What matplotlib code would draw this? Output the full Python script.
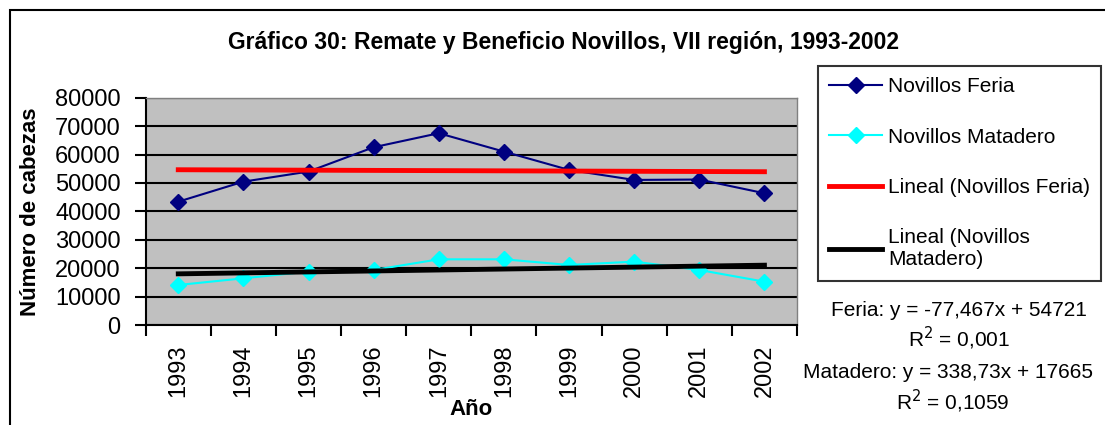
import matplotlib
matplotlib.use("Agg")
import matplotlib.pyplot as plt
from matplotlib.patches import Rectangle
import numpy as np

plt.rcParams['font.family'] = ['Liberation Sans', 'DejaVu Sans']

years = ['1993', '1994', '1995', '1996', '1997', '1998', '1999', '2000', '2001', '2002']
feria = [43400, 50450, 54000, 62560, 67500, 61030, 54580, 51060, 51200, 46370]
matadero = [14080, 16430, 18780, 19370, 23120, 23120, 21130, 22300, 19370, 15250]
# trend coefficients as printed on the chart (x = 1..10)
feria_slope, feria_icpt = -77.467, 54721
mat_slope, mat_icpt = 338.73, 17665

W, H = 1105, 425
fig = plt.figure(figsize=(W / 100, H / 100), dpi=100)
fig.patch.set_facecolor('white')

# outer chart border
fig.add_artist(Rectangle((10 / W, -0.1), 1.2, 1 - 10 / H + 0.1, transform=fig.transFigure,
                         fill=False, edgecolor='black', linewidth=1.5))

ax = fig.add_axes([145.7 / W, 1 - 325 / H, (797 - 145.7) / W, (325 - 97.7) / H])
ax.set_facecolor('#C0C0C0')

x = np.arange(1, len(years) + 1)
ax.set_xlim(0.5, len(years) + 0.5)
ax.set_ylim(0, 80000)
ax.set_yticks(np.arange(0, 80001, 10000))
ax.yaxis.grid(True, color='black', linewidth=1.5)
ax.set_axisbelow(True)

l1, = ax.plot(x, feria, color='#000080', marker='D', markersize=8.5, linewidth=1.5,
              label='Novillos Feria', zorder=3)
l2, = ax.plot(x, matadero, color='#00FFFF', marker='D', markersize=8.5, linewidth=1.5,
              label='Novillos Matadero', zorder=3)
l3, = ax.plot(x, feria_slope * x + feria_icpt, color='#FF0000', linewidth=3.5,
              label='Lineal (Novillos Feria)', zorder=4)
l4, = ax.plot(x, mat_slope * x + mat_icpt, color='black', linewidth=3.5,
              label='Lineal (Novillos\nMatadero)', zorder=4)

ax.set_xticks(x)
ax.set_xticklabels(years, rotation=90, fontsize=17)
ax.set_xticks(np.arange(0.5, len(years) + 1), minor=True)
ax.tick_params(axis='x', which='major', length=0, pad=14)
ax.tick_params(axis='x', which='minor', length=8, width=1.5, color='black')
ax.tick_params(axis='y', length=8, width=1.5, labelsize=17, pad=10)

for s in ['left', 'bottom']:
    ax.spines[s].set_linewidth(1.5)
    ax.spines[s].set_color('black')
for s in ['top', 'right']:
    ax.spines[s].set_linewidth(1)
    ax.spines[s].set_color('#808080')

ax.set_xlabel('Año', fontsize=16, fontweight='bold')
ax.xaxis.set_label_coords(0.5, -0.325)
ax.set_ylabel('Número de cabezas', fontsize=16, fontweight='bold')
ax.yaxis.set_label_coords(-0.16, 0.5)

fig.text(563 / W, 1 - 42 / H, 'Gráfico 30: Remate y Beneficio Novillos, VII región, 1993-2002',
         ha='center', va='center', fontsize=16.5, fontweight='bold')

leg = fig.legend(handles=[l1, l2, l3, l4], loc='upper left',
                 bbox_to_anchor=(818 / W, 1 - 66 / H), fontsize=15, frameon=True,
                 fancybox=False, edgecolor='black', labelspacing=1.5, handlelength=2.5,
                 handletextpad=0.3, borderpad=0.55, borderaxespad=0)
leg.get_frame().set_linewidth(1.5)

eq_kw = dict(ha='center', va='center', fontsize=15)
fig.text(959 / W, 1 - 310 / H, 'Feria: y = -77,467x + 54721', **eq_kw)
fig.text(959 / W, 1 - 338 / H, 'R$^2$ = 0,001', **eq_kw)
fig.text(948 / W, 1 - 373 / H, 'Matadero: y = 338,73x + 17665', **eq_kw)
fig.text(953 / W, 1 - 401 / H, 'R$^2$ = 0,1059', **eq_kw)

fig.savefig('out.png', dpi=100)
